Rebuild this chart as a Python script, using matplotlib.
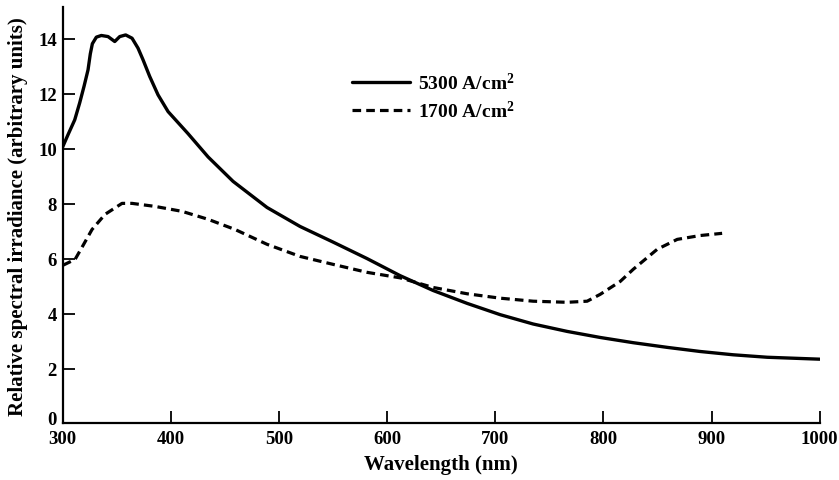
import matplotlib
matplotlib.use("Agg")
import matplotlib.pyplot as plt
import matplotlib.transforms as mtransforms

# 5300 A/cm^2 (solid)
wl_5300 = [300, 305.1, 311.3, 315.9, 319.9, 323.6, 325.7, 327.6, 331.3, 335.9, 342.1, 348.3,
           352.9, 358.4, 364.3, 369.8, 374.4, 380.6, 388.3, 397.6, 416.0, 434.6, 457.7,
           489.1, 519.6, 550.2, 581.6, 612.1, 642.6, 674.1, 704.6, 735.1, 766.6, 797.1,
           827.6, 859.0, 889.5, 920.0, 951.5, 1000]
irr_5300 = [10.05, 10.51, 11.05, 11.67, 12.27, 12.87, 13.45, 13.82, 14.06, 14.12, 14.08, 13.90,
            14.08, 14.14, 14.02, 13.66, 13.24, 12.63, 11.96, 11.35, 10.55, 9.70, 8.81,
            7.86, 7.17, 6.60, 6.00, 5.38, 4.84, 4.37, 3.96, 3.62, 3.35, 3.13,
            2.94, 2.77, 2.62, 2.50, 2.41, 2.34]

# 1700 A/cm^2 (dashed)
wl_1700 = [300.5, 311.6, 318, 327.3, 339.3, 355, 364.3, 385.5, 410.5, 434.6, 459.5, 489.1,
           519.6, 550.2, 581.6, 612.1, 642.6, 674.1, 704.6, 735.1, 766.6, 785.0, 797.1,
           815.6, 827.6, 849.8, 868.3, 889.5, 909.8]
irr_1700 = [5.76, 5.97, 6.41, 7.06, 7.61, 8.01, 8.01, 7.90, 7.72, 7.43, 7.06, 6.52,
            6.08, 5.79, 5.50, 5.30, 4.95, 4.72, 4.56, 4.45, 4.41, 4.45, 4.70,
            5.17, 5.61, 6.34, 6.70, 6.84, 6.92]

x_ticks = [300, 400, 500, 600, 700, 800, 900, 1000]
y_ticks = [0, 2, 4, 6, 8, 10, 12, 14]
labels = ['5300 A/cm$^{\\mathbf{2}}$', '1700 A/cm$^{\\mathbf{2}}$']

plt.rcParams['font.family'] = ['Liberation Serif', 'DejaVu Serif']
plt.rcParams['font.weight'] = 'bold'
plt.rcParams['mathtext.fontset'] = 'custom'
plt.rcParams['mathtext.rm'] = 'Liberation Serif:bold'
plt.rcParams['mathtext.bf'] = 'Liberation Serif:bold'
plt.rcParams['mathtext.it'] = 'Liberation Serif:bold'

fig = plt.figure(figsize=(8.39, 4.81), dpi=100)
ax = fig.add_axes([0.0745, 0.1175, 0.9025, 0.8655])

ax.plot(wl_5300, irr_5300, color='black', lw=2.4, solid_joinstyle='round',
        solid_capstyle='round', label=labels[0])
ax.plot(wl_1700, irr_1700, color='black', lw=2.3, linestyle=(0, (2.7, 1.6)),
        dash_joinstyle='round', label=labels[1])

ax.set_xlim(300, 1000)
ax.set_ylim(0, 15.15)
ax.set_xticks(x_ticks)
ax.set_yticks(y_ticks)
ax.spines['top'].set_visible(False)
ax.spines['right'].set_visible(False)
for s in ('left', 'bottom'):
    ax.spines[s].set_linewidth(1.6)
ax.tick_params(axis='x', direction='in', length=9, width=1.3, pad=5, labelsize=13.5)
ax.tick_params(axis='y', direction='in', length=8.5, width=1.3, pad=4, labelsize=13.5)
for lab in ax.get_xticklabels() + ax.get_yticklabels():
    lab.set_fontweight('bold')

# nudge the "0" y tick label up slightly, as in the reference
ylabs = ax.get_yticklabels()
off = mtransforms.ScaledTranslation(0, 4 / 72, fig.dpi_scale_trans)
ylabs[0].set_transform(ylabs[0].get_transform() + off)

ax.set_xlabel('Wavelength (nm)', fontsize=15, fontweight='bold', labelpad=5)
ax.set_ylabel('Relative spectral irradiance (arbitrary units)', fontsize=15,
              fontweight='bold', labelpad=7)

leg = ax.legend(loc='upper left', bbox_to_anchor=(0.359, 0.887), frameon=False,
                handlelength=3.0, handletextpad=0.4, labelspacing=0.35,
                prop={'size': 14, 'weight': 'bold'})

fig.savefig('out.png', dpi=100)
